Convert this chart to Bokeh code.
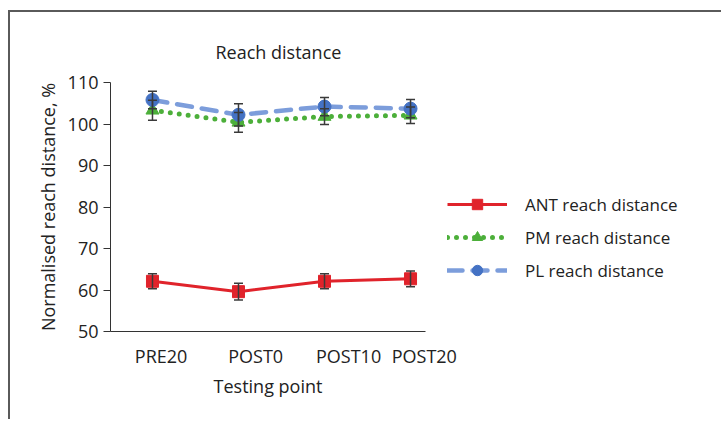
from bokeh.plotting import figure
from bokeh.models import (ColumnDataSource, Range1d, Whisker, TeeHead, Legend,
                          LegendItem, FixedTicker)
from bokeh.embed import file_html
from bokeh.resources import INLINE

categories = ["PRE20", "POST0", "POST10", "POST20"]
ant = [62.1, 59.6, 62.1, 62.7]
ant_err = [1.8, 2.0, 1.8, 1.9]
pm = [103.3, 100.4, 101.8, 102.1]
pm_err = [2.4, 2.4, 1.9, 2.0]
pl = [105.8, 102.2, 104.2, 103.7]
pl_err = [2.1, 2.7, 2.2, 2.2]

xs = list(range(len(categories)))
label_pos = [0.1, 1.2, 2.28, 3.16]

FONT = "Open Sans"
TXT = "#222222"

p = figure(frame_width=315, frame_height=249, output_backend="svg", toolbar_location=None,
           x_range=Range1d(-0.488, 3.174), y_range=Range1d(50, 110),
           min_border_left=100, min_border_right=0, min_border_top=70,
           min_border_bottom=88)
p.styles = {"border-left": "2px solid #5a5a5a", "border-top": "2px solid #5a5a5a",
            "margin-left": "8px", "margin-top": "10px"}
p.outline_line_color = None
p.xgrid.grid_line_color = None
p.ygrid.grid_line_color = None

p.title.text = "Reach distance"
p.title.align = "left"
p.title.offset = 105
p.title.text_font = FONT
p.title.text_font_size = "18px"
p.title.text_font_style = "normal"
p.title.text_color = TXT
p.title.standoff = 37

p.yaxis.ticker = FixedTicker(ticks=[50, 60, 70, 80, 90, 100, 110])
p.yaxis.axis_label = "Normalised reach distance, %"
p.xaxis.axis_label = "Testing point"
p.xaxis.ticker = FixedTicker(ticks=label_pos)
p.xaxis.major_label_overrides = {lp: c for lp, c in zip(label_pos, categories)}
for ax in (p.xaxis[0], p.yaxis[0]):
    ax.axis_line_color = "#333333"
    ax.axis_line_width = 1
    ax.major_label_text_font = FONT
    ax.major_label_text_font_size = "18px"
    ax.major_label_text_color = TXT
    ax.axis_label_text_font = FONT
    ax.axis_label_text_font_size = "18px"
    ax.axis_label_text_font_style = "normal"
    ax.axis_label_text_color = TXT
    ax.minor_tick_line_color = None
p.xaxis.major_tick_line_color = None
p.xaxis.major_label_standoff = 6
p.xaxis.axis_label_standoff = 3
p.yaxis.major_tick_out = 7
p.yaxis.major_tick_in = 0
p.yaxis.major_tick_line_color = "#333333"
p.yaxis.major_label_standoff = 5
p.yaxis.axis_label_standoff = 5

RED = "#e0232b"
GREEN = "#4caf3a"
BLUE_L = "#7c9ddb"
BLUE = "#4472c4"
ERR = "#3a3a3a"


def errbars(vals, errs):
    src = ColumnDataSource(dict(x=xs, lo=[v - e for v, e in zip(vals, errs)],
                                hi=[v + e for v, e in zip(vals, errs)]))
    w = Whisker(base="x", lower="lo", upper="hi", source=src,
                line_color=ERR, line_width=1.5, level="glyph",
                upper_head=TeeHead(size=9, line_color=ERR, line_width=1.5),
                lower_head=TeeHead(size=9, line_color=ERR, line_width=1.5))
    p.add_layout(w)


# ANT
l_ant = p.line(xs, ant, line_color=RED, line_width=3)
errbars(ant, ant_err)
m_ant = p.scatter(xs, ant, marker="square", size=12, fill_color=RED, line_color=RED)

# PM
l_pm = p.line(xs, pm, line_color=GREEN, line_width=5, line_dash="0 9", line_cap="round")
errbars(pm, pm_err)
m_pm = p.scatter(xs, pm, marker="triangle", size=13, fill_color=GREEN, line_color=GREEN)

# PL
l_pl = p.line(xs, pl, line_color=BLUE_L, line_width=4.5, line_dash="15 10", line_cap="round")
errbars(pl, pl_err)
m_pl = p.scatter(xs, pl, marker="circle", size=13, fill_color=BLUE, line_color=BLUE)

legend = Legend(items=[
    LegendItem(label="ANT reach distance", renderers=[l_ant, m_ant]),
    LegendItem(label="PM reach distance", renderers=[l_pm, m_pm]),
    LegendItem(label="PL reach distance", renderers=[l_pl, m_pl]),
], location=(22, 48))
legend.border_line_color = None
legend.background_fill_alpha = 0
legend.label_text_font = FONT
legend.label_text_font_size = "17px"
legend.label_text_color = TXT
legend.glyph_width = 60
legend.glyph_height = 26
legend.label_standoff = 18
legend.label_width = 152
legend.spacing = 7
legend.margin = 0
legend.padding = 22
p.add_layout(legend, "right")

open("out.html", "w").write(file_html(p, INLINE))
